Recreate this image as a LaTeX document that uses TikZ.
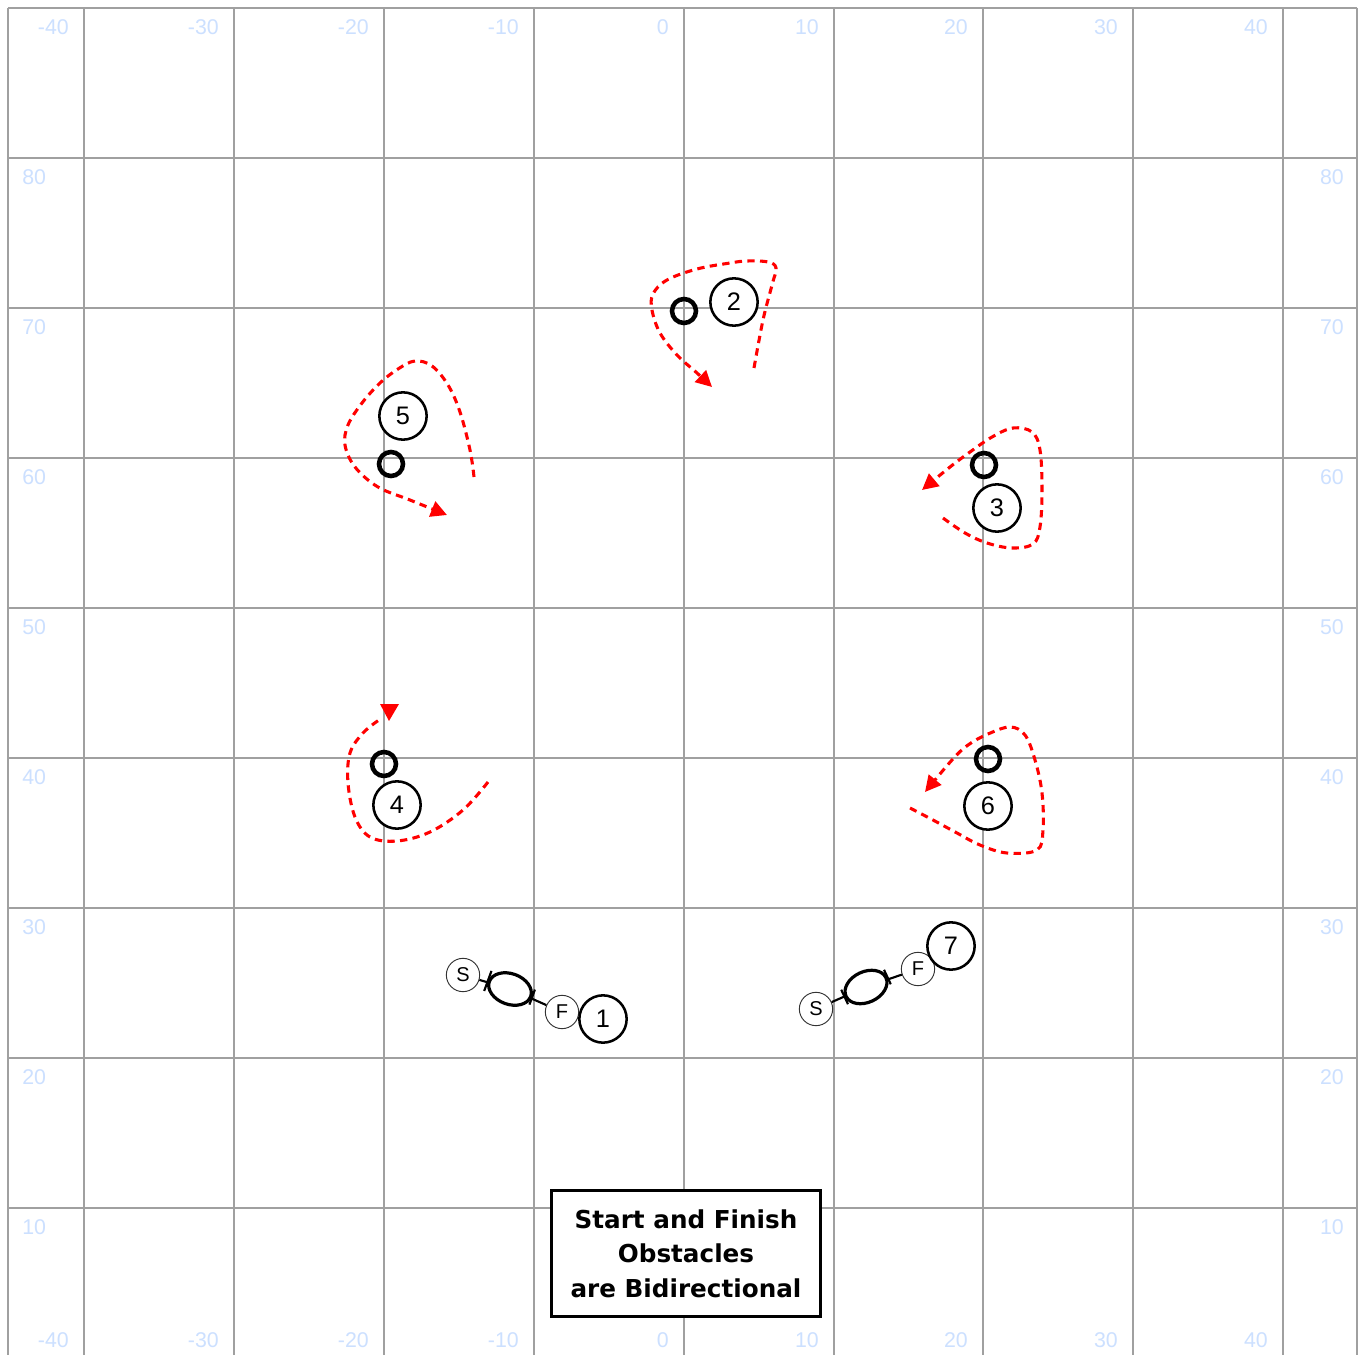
\documentclass[tikz,border=0pt]{standalone}
\usepackage{fontspec}
\setmainfont{Liberation Sans}
\newfontfamily\boxfont{DejaVu Sans}
\usetikzlibrary{arrows.meta,shapes.geometric,calc}
\definecolor{gridgray}{HTML}{A0A0A0}
\definecolor{lblblue}{HTML}{CCE0FF}
\begin{document}
\begin{tikzpicture}[x=0.75pt,y=-0.75pt,
  gridline/.style={draw=gridgray, line width=1.5pt},
  axlbl/.style={text=lblblue, inner sep=0pt, font=\fontsize{16}{18}\selectfont},
  bignum/.style={circle, draw=black, fill=white, line width=1.9pt, minimum size=35.5pt, inner sep=0pt, font=\fontsize{19}{22}\selectfont},
  pin/.style={circle, draw=black, line width=3.4pt, minimum size=18pt, inner sep=0pt},
  sf/.style={circle, draw=black!80, fill=white, line width=0.7pt, minimum size=25pt, inner sep=0pt, font=\fontsize{15}{18}\selectfont},
  gate/.style={ellipse, draw=black, line width=2.4pt, minimum width=33pt, minimum height=23pt, inner sep=0pt},
  conn/.style={draw=black, line width=1.6pt},
  tick/.style={draw=black, line width=1.6pt},
  route/.style={draw=red, line width=2.3pt, dash pattern=on 5.5pt off 4pt, -{Triangle[length=12pt,width=12pt]}},
  route4/.style={draw=red, line width=2.3pt, dash pattern=on 5.5pt off 4pt},
  note/.style={draw=black, fill=white, line width=2.25pt, minimum width=201.75pt, minimum height=94.5pt, inner sep=0pt, align=center, font=\boxfont\bfseries\fontsize{18.5}{26}\selectfont}
]
\useasboundingbox (0,0) rectangle (1360,1355);
\fill[white] (0,0) rectangle (1360,1355);

% grid
\foreach \x in {8,84,234,384,534,834,983,1133,1283,1357}
  \draw[gridline] (\x,8) -- (\x,1360);
\draw[gridline, line width=1.9pt] (684,8) -- (684,1360);
\foreach \y in {8,158,308,458,608,758,908,1058,1208}
  \draw[gridline] (8,\y) -- (1357,\y);

% axis labels
\foreach \x/\t [count=\i] in {84/-40,234/-30,384/-20,534/-10,684/0,834/10,983/20,1133/30,1283/40}{
  \node[axlbl, anchor=east] (top\i) at (\x-15,27) {\t};
  \node[axlbl, anchor=east] (bot\i) at (\x-15,1340) {\t};
}
\foreach \y/\t [count=\i] in {158/80,308/70,458/60,608/50,758/40,908/30,1058/20,1208/10}{
  \node[axlbl, anchor=west] (lft\i) at (22,\y+19) {\t};
  \node[axlbl, anchor=east] (rgt\i) at (1344,\y+19) {\t};
}

% start / finish 1
\node[sf] (s1) at (463,975) {S};
\node[gate, rotate=-20] (g1) at (510,989) {};
\node[sf] (f1) at (562,1012) {F};
\node[bignum] (o1) at (603,1019) {1};
\draw[conn] (s1) -- (g1);
\draw[conn] (g1) -- (f1);
\draw[tick] ($(g1.west)!8pt!90:(g1.east)$) -- ($(g1.west)!8pt!-90:(g1.east)$);
\draw[tick] ($(g1.east)!6pt!90:(g1.west)$) -- ($(g1.east)!6pt!-90:(g1.west)$);

% start / finish 7
\node[sf] (s7) at (816,1009) {S};
\node[gate, rotate=25] (g7) at (866,987) {};
\node[sf] (f7) at (918,969) {F};
\node[bignum] (o7) at (951,946) {7};
\draw[conn] (s7) -- (g7);
\draw[conn] (g7) -- (f7);
\draw[tick] ($(g7.west)!6pt!90:(g7.east)$) -- ($(g7.west)!6pt!-90:(g7.east)$);
\draw[tick] ($(g7.east)!6pt!90:(g7.west)$) -- ($(g7.east)!6pt!-90:(g7.west)$);

% obstacles
\node[pin] (p2) at (684,311) {};
\node[bignum] (o2) at (734,302) {2};
\node[bignum] (o5) at (403,416) {5};
\node[pin] (p5) at (391,464) {};
\node[pin] (p3) at (984,465) {};
\node[bignum] (o3) at (997,508) {3};
\node[pin] (p4) at (384,764) {};
\node[bignum] (o4) at (397,805) {4};
\node[pin] (p6) at (988,759) {};
\node[bignum] (o6) at (988,806) {6};

% routes
\draw[route] plot[smooth, tension=0.6] coordinates {(754,368) (763,320) (772,285) (776,268) (768,262) (747,261) (730,263) (697,269) (667,280) (653,294) (652,310) (660,333) (677,355) (697,373) (712,387)};
\draw[route] plot[smooth, tension=0.6] coordinates {(474,477) (470,450) (460,412) (448,385) (432,366) (415,361) (398,369) (380,383) (362,403) (348,425) (345,445) (355,467) (378,487) (410,500) (447,515)};
\draw[route] plot[smooth, tension=0.6] coordinates {(943,518) (965,533) (987,543) (1012,548) (1033,544) (1040,527) (1042,490) (1040,450) (1032,432) (1013,428) (992,437) (970,452) (950,467) (922,490)};
\draw[route4] plot[smooth, tension=0.6] coordinates {(488,782) (463,810) (430,832) (397,841) (370,837) (355,817) (348,783) (350,753) (363,733) (379,720)};
\fill[red] (380,704) -- (399,704) -- (389,721) -- cycle;
\draw[route] plot[smooth, tension=0.6] coordinates {(910,808) (933,820) (957,833) (980,845) (1007,853) (1037,850) (1043,830) (1042,793) (1035,760) (1025,735) (1010,727) (988,734) (968,745) (952,760) (925,792)};

% note
\node[note] (note) at (686,1253.5) {Start and Finish\\Obstacles\\are Bidirectional};
\end{tikzpicture}
\end{document}
